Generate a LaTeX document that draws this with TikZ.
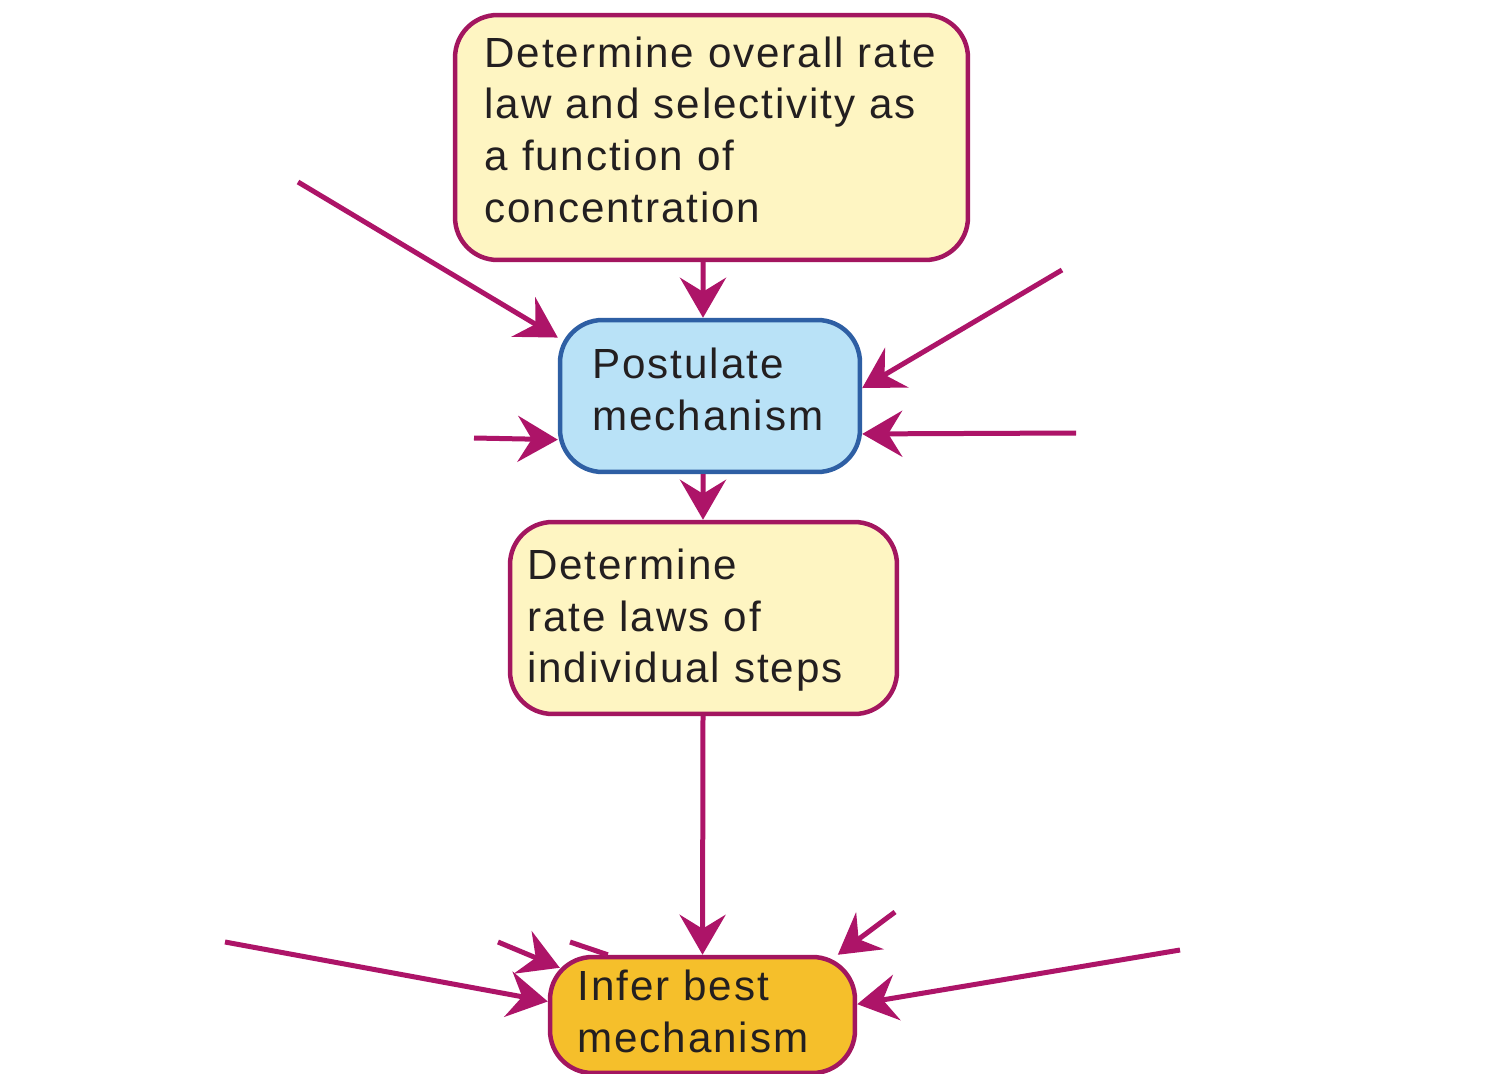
\documentclass[tikz,border=0pt]{standalone}
\usepackage{fontspec}
\setmainfont{Liberation Sans}
\newfontfamily\boxfont{Liberation Sans}[LetterSpace=4.5]
\usetikzlibrary{arrows.meta,calc}
\definecolor{mag}{HTML}{AD1468}
\definecolor{boxmag}{HTML}{A3165F}
\definecolor{lyel}{HTML}{FEF5C2}
\definecolor{lblue}{HTML}{B9E2F7}
\definecolor{dblue}{HTML}{2E5FA4}
\definecolor{orng}{HTML}{F5BF2B}
\definecolor{ink}{HTML}{231F20}
\newcommand{\dep}[1]{\rule[-#1]{0pt}{#1}}
\begin{document}
\begin{tikzpicture}[x=0.02cm,y=-0.02cm,
  box/.style={rounded corners=0.85cm, line width=0.09cm, align=left,
    font=\boxfont\fontsize{24}{29.4}\selectfont, text=ink, inner ysep=0pt},
  yelbox/.style={box, draw=boxmag, fill=lyel},
  bluebox/.style={box, draw=dblue, fill=lblue},
  orbox/.style={box, draw=boxmag, fill=orng},
  conn/.style={draw=mag, line width=0.1cm,
    -{Stealth[length=0.8cm,width=0.92cm,inset=0.28cm]}},
  plain/.style={draw=mag, line width=0.1cm}]
\useasboundingbox (0,0) rectangle (1491,1074);
\fill[white] (0,0) rectangle (1491,1074);

\node[yelbox, minimum width=10.26cm, minimum height=4.9cm, text width=9.2cm, inner xsep=0.52cm]
  (top) at (711.5,137.5) {\hspace*{0.06cm}Determine overall rate\\\hspace*{0.06cm}law and selectivity as\\\hspace*{0.06cm}a function of\\\hspace*{0.06cm}concentration\dep{0.32cm}};
\node[bluebox, minimum width=6cm, minimum height=3.04cm, text width=4.7cm, inner xsep=0.64cm]
  (post) at (710,396) {Postulate\\mechanism\dep{0.26cm}};
\node[yelbox, minimum width=7.74cm, minimum height=3.84cm, text width=7.05cm, inner xsep=0.32cm]
  (rate) at (703.5,618) {\rule{0pt}{0.7cm}Determine\\rate laws of\\individual steps};
\node[orbox, minimum width=6.1cm, minimum height=2.32cm, text width=5cm, inner xsep=0.54cm]
  (infer) at (702.5,1015) {Infer best\\mechanism\dep{0.16cm}};

\coordinate (a1) at (298,182);
\coordinate (a2) at (1062,270);
\coordinate (a3) at (474,438);
\coordinate (a4) at (1076,433);
\coordinate (b1) at (895,912);
\coordinate (b2) at (1180,950);
\coordinate (b3) at (225,942);
\coordinate (b4) at (498,942);
\coordinate (b5) at (570,942);

\draw[conn] (a1) -- (post.159);
\draw[conn] (a2) -- (post.3);
\draw[conn] (a3) -- (post.196);
\draw[conn] (a4) -- (post.346);
\draw[conn] ([xshift=-0.17cm]top.south) -- ([xshift=-0.14cm]post.north);
\draw[conn] ([xshift=-0.14cm]post.south) -- ([xshift=-0.01cm]rate.north);
\draw[conn] ([xshift=-0.01cm]rate.south) -- (infer.north);
\draw[conn] (b1) -- (infer.24);
\draw[conn] (b2) -- (infer.4.5);
\draw[conn] (b3) -- (infer.175.5);
\draw[conn] (b4) -- ($(infer.north west)+(0.24cm,-0.26cm)$);
\draw[plain] (b5) -- ($(infer.north west)+(1.2cm,0cm)$);
\end{tikzpicture}
\end{document}
